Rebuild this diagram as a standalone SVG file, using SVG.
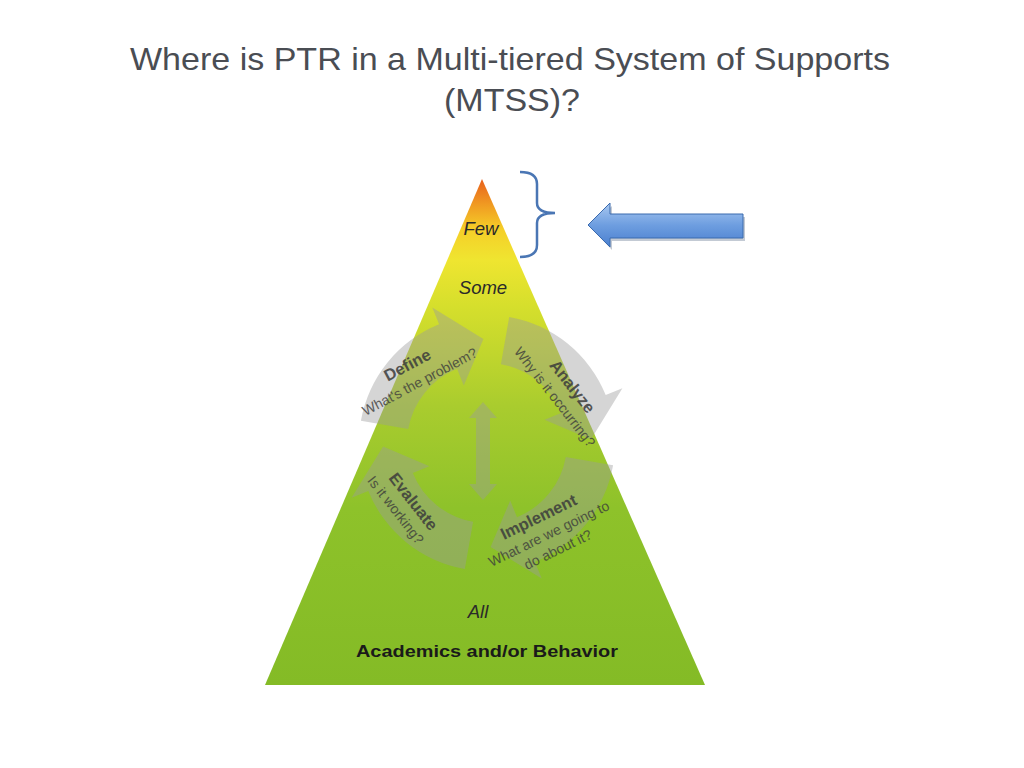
<svg xmlns="http://www.w3.org/2000/svg" width="1024" height="768" viewBox="0 0 1024 768">
<defs>
<linearGradient id="pyr" gradientUnits="userSpaceOnUse" x1="0" y1="179" x2="0" y2="685">
<stop offset="0" stop-color="#e8601c"/>
<stop offset="0.05" stop-color="#f09a22"/>
<stop offset="0.1" stop-color="#f5cf28"/>
<stop offset="0.16" stop-color="#efe530"/>
<stop offset="0.25" stop-color="#d6df2c"/>
<stop offset="0.45" stop-color="#a9cc2e"/>
<stop offset="0.65" stop-color="#8ec22a"/>
<stop offset="1" stop-color="#84bb26"/>
</linearGradient>
<linearGradient id="blue" x1="0" y1="0" x2="0" y2="1">
<stop offset="0" stop-color="#a9c8f0"/>
<stop offset="0.5" stop-color="#6e9ee0"/>
<stop offset="1" stop-color="#4a7fcf"/>
</linearGradient>
<style>
.title{font-family:"Liberation Sans",Arial,sans-serif;font-size:32px;fill:#4a4d53;text-anchor:middle}
.tier{font-family:"Liberation Sans",Arial,sans-serif;font-size:18.5px;font-style:italic;fill:#2a2a2a;text-anchor:middle}
.cyc{fill:#9a9a9a;opacity:0.42}
.ch{font-family:"Liberation Sans",Arial,sans-serif;font-size:16.5px;font-weight:bold;fill:#3c3c3c;opacity:0.85;text-anchor:middle}
.cs{font-family:"Liberation Sans",Arial,sans-serif;font-size:14px;fill:#3c3c3c;opacity:0.8;text-anchor:middle}
</style>
</defs>
<rect width="1024" height="768" fill="#ffffff"/>
<text class="title" x="510" y="70" textLength="760" lengthAdjust="spacingAndGlyphs">Where is PTR in a Multi-tiered System of Supports</text>
<text class="title" x="512" y="111" textLength="136" lengthAdjust="spacingAndGlyphs">(MTSS)?</text>

<g id="pyramid">
<polygon points="482,179 705,685 265,685" fill="url(#pyr)"/>
<text class="tier" x="481" y="235">Few</text>
<text class="tier" x="483" y="294">Some</text>
<text class="tier" x="478" y="618">All</text>
<text x="487" y="657" font-family="'Liberation Sans',Arial,sans-serif" font-size="16" font-weight="bold" fill="#1a1a1a" text-anchor="middle" textLength="262" lengthAdjust="spacingAndGlyphs">Academics and/or Behavior</text>
</g>

<g id="cycle">
<path class="cyc" d="M360.9 420.8 A128 128 0 0 1 439.1 324.3 L432.3 307.6 L483.4 339.1 L463.8 385.5 L457.0 368.8 A80 80 0 0 0 408.2 429.1 Z"/>
<path class="cyc" d="M509.2 316.9 A128 128 0 0 1 605.7 395.1 L622.4 388.3 L590.9 439.4 L544.5 419.8 L561.2 413.0 A80 80 0 0 0 500.9 364.2 Z"/>
<path class="cyc" d="M613.1 465.2 A128 128 0 0 1 534.9 561.7 L541.7 578.4 L490.6 546.9 L510.2 500.5 L517.0 517.2 A80 80 0 0 0 565.8 456.9 Z"/>
<path class="cyc" d="M464.8 569.1 A128 128 0 0 1 368.3 490.9 L351.6 497.7 L383.1 446.6 L429.5 466.2 L412.8 473.0 A80 80 0 0 0 473.1 521.8 Z"/>
<path class="cyc" d="M483 402 L497 418 L490 418 L490 484 L497 484 L483 500 L469 484 L476 484 L476 418 L469 418 Z"/>
</g>

<g id="define">
<text class="ch" transform="translate(410,370) rotate(-28)">Define</text>
<text class="cs" transform="translate(422,386) rotate(-28)">What's the problem?</text>
</g>
<g id="analyze">
<text class="ch" transform="translate(568,390) rotate(52)">Analyze</text>
<text class="cs" transform="translate(551,400) rotate(52)">Why is it occurring?</text>
</g>
<g id="implement">
<text class="ch" transform="translate(541,522) rotate(-26)">Implement</text>
<text class="cs" transform="translate(551,538) rotate(-26)">What are we going to</text>
<text class="cs" transform="translate(560,554) rotate(-26)">do about it?</text>
</g>
<g id="evaluate">
<text class="ch" transform="translate(409,505) rotate(52)">Evaluate</text>
<text class="cs" transform="translate(392,513) rotate(52)">Is it working?</text>
</g>

<g id="connectors">
<path d="M520 172 Q537 172 537 184 L537 203 Q537 213 555 213 Q537 213 537 223 L537 245 Q537 257 520 257" fill="none" stroke="#4a76b4" stroke-width="2.5"/>
<polygon points="590,227 612,206 612,217 745,217 745,241 612,241 612,250" fill="#7a8aa0" opacity="0.45"/>
<polygon points="588,225 610,203 610,214 743,214 743,238 610,238 610,247" fill="url(#blue)" stroke="#3a6aae" stroke-width="1"/>
</g>
</svg>
